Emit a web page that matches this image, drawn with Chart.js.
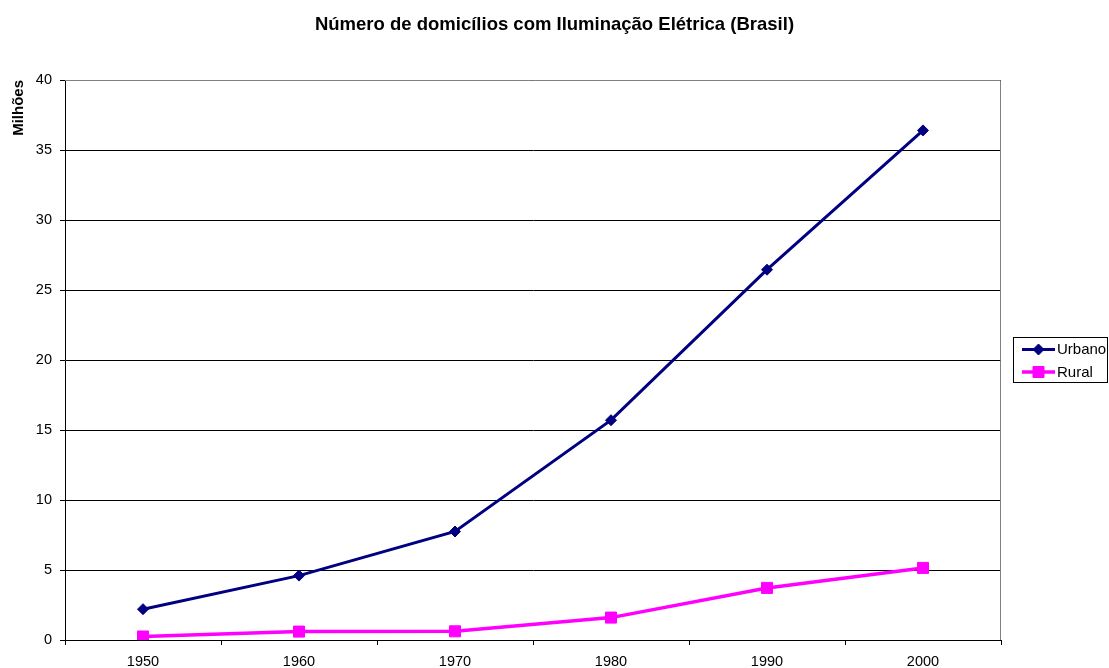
<!DOCTYPE html>
<html>
<head>
<meta charset="utf-8">
<script src="https://cdn.jsdelivr.net/npm/chart.js@4.4.1/dist/chart.umd.min.js"></script>
<style>
html,body{margin:0;padding:0;background:#fff;}
#wrap{width:1109px;height:668px;}
</style>
</head>
<body>
<div id="wrap"><canvas id="c" width="1109" height="668"></canvas></div>
<script>
const years = ['1950', '1960', '1970', '1980', '1990', '2000'];
const urbano = [2.2, 4.6, 7.75, 15.7, 26.45, 36.4];
const rural = [0.25, 0.6, 0.62, 1.6, 3.72, 5.15];
const yTicks = [0, 5, 10, 15, 20, 25, 30, 35, 40];
const titleText = 'Número de domicílios com Iluminação Elétrica (Brasil)';
const yTitleText = 'Milhões';
const seriesNames = ['Urbano', 'Rural'];

const FONT = "'Liberation Sans', Arial, sans-serif";

const framePlugin = {
  id: 'frame',
  beforeDatasetsDraw(chart) {
    const {ctx, chartArea: a} = chart;
    ctx.save();
    ctx.strokeStyle = '#808080';
    ctx.lineWidth = 1;
    ctx.beginPath();
    const t = Math.round(a.top) + 0.5, r = Math.round(a.right) - 0.5;
    ctx.moveTo(a.left, t);
    ctx.lineTo(r, t);
    ctx.lineTo(r, a.bottom);
    ctx.stroke();
    ctx.restore();
  }
};

const legendPlugin = {
  id: 'boxLegend',
  afterDraw(chart) {
    const {ctx} = chart;
    const x0 = 1013, y0 = 337, w = 95, h = 46;
    ctx.save();
    ctx.fillStyle = '#fff';
    ctx.fillRect(x0, y0, w, h);
    ctx.strokeStyle = '#000';
    ctx.lineWidth = 1;
    ctx.strokeRect(x0 + 0.5, y0 + 0.5, w - 1, h - 1);
    const rows = [349.5, 372];
    chart.data.datasets.forEach((ds, i) => {
      const y = rows[i];
      ctx.strokeStyle = ds.borderColor;
      ctx.lineWidth = ds.borderWidth;
      ctx.beginPath();
      ctx.moveTo(1022, y);
      ctx.lineTo(1055, y);
      ctx.stroke();
      ctx.fillStyle = ds.pointBackgroundColor;
      ctx.strokeStyle = ds.pointBorderColor;
      ctx.lineWidth = 1;
      Chart.helpers.drawPoint(ctx, {pointStyle: ds.pointStyle, radius: ds.pointRadius, rotation: 0, borderWidth: 1}, 1038.5, y);
      ctx.fillStyle = '#000';
      ctx.font = '15px ' + FONT;
      ctx.textBaseline = 'middle';
      ctx.textAlign = 'left';
      ctx.fillText(ds.label, 1057, y + 0.5);
    });
    ctx.restore();
  }
};

new Chart(document.getElementById('c'), {
  type: 'line',
  data: {
    labels: years,
    datasets: [
      {
        label: seriesNames[0],
        data: urbano,
        borderColor: '#000080',
        backgroundColor: '#000080',
        pointBackgroundColor: '#000080',
        pointBorderColor: '#000080',
        borderWidth: 3,
        pointStyle: 'rectRot',
        pointRadius: 5.5,
        pointBorderWidth: 1,
        tension: 0,
        fill: false
      },
      {
        label: seriesNames[1],
        data: rural,
        borderColor: '#FF00FF',
        backgroundColor: '#FF00FF',
        pointBackgroundColor: '#FF00FF',
        pointBorderColor: '#FF00FF',
        borderWidth: 3.5,
        pointStyle: 'rect',
        pointRadius: 7.8,
        pointBorderWidth: 1,
        tension: 0,
        fill: false
      }
    ]
  },
  options: {
    responsive: false,
    animation: false,
    devicePixelRatio: 1,
    layout: {padding: 0},
    plugins: {
      legend: {display: false},
      tooltip: {enabled: false},
      title: {
        display: true,
        text: titleText,
        color: '#000',
        font: {family: FONT, size: 18.5, weight: 'bold'},
        padding: {top: 14, bottom: 43.8},
        fullSize: true
      }
    },
    scales: {
      x: {
        type: 'category',
        offset: true,
        grid: {offset: true, drawOnChartArea: false, drawTicks: true, tickLength: 5, color: '#000'},
        border: {display: true, color: '#000', width: 1},
        ticks: {color: '#000', font: {family: FONT, size: 14.5}, padding: 8, maxRotation: 0, autoSkip: false},
        afterFit(s) { s.height = 28; }
      },
      y: {
        type: 'linear',
        position: 'left',
        min: 0,
        max: 40,
        afterBuildTicks(s) { s.ticks = yTicks.map(v => ({value: v})); },
        grid: {color: '#000', lineWidth: 1, drawTicks: true, tickLength: 5},
        border: {display: true, color: '#000', width: 1},
        ticks: {color: '#000', font: {family: FONT, size: 14.5}, padding: 8},
        title: {
          display: true,
          text: yTitleText,
          align: 'end',
          color: '#000',
          font: {family: FONT, size: 15, weight: 'bold'},
          padding: {top: 10, bottom: 0}
        },
        afterFit(s) { s.width = 65; }
      },
      spacer: {
        type: 'linear',
        position: 'right',
        display: true,
        grid: {display: false, drawTicks: false},
        border: {display: false},
        ticks: {display: false},
        afterFit(s) { s.width = 108; }
      }
    }
  },
  plugins: [framePlugin, legendPlugin]
});
</script>
</body>
</html>
